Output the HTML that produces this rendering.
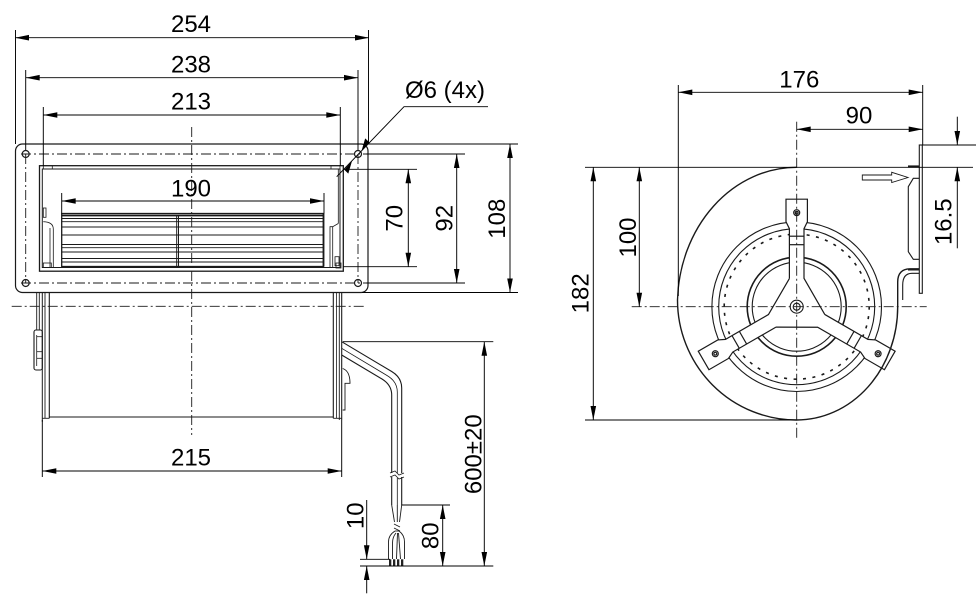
<!DOCTYPE html>
<html>
<head>
<meta charset="utf-8">
<style>
html,body{margin:0;padding:0;background:#fff;}
svg{display:block;}
</style>
</head>
<body>
<svg width="976" height="604" viewBox="0 0 976 604" xmlns="http://www.w3.org/2000/svg">
<defs>
<marker id="a" markerUnits="userSpaceOnUse" markerWidth="16" markerHeight="8" refX="0" refY="0" orient="auto-start-reverse" overflow="visible">
<path d="M0,0 L-14,-2.8 L-14,2.8 Z" fill="#000"/>
</marker>
<g id="armFill">
<path d="M-7.3,-28.4 L-7.3,-78 L-10.7,-85 L-10.7,-107.5 L10.7,-107.5 L10.7,-85 L7.3,-78 L7.3,-28.4 L28.2,8 L0,0 Z" fill="#fff" stroke="none"/>
</g>
<g id="armStroke" fill="none" stroke="#1a1a1a" stroke-width="1.2">
<path d="M-7.3,-28.4 L-7.3,-78 L-10.7,-85 L-10.7,-107.5 L10.7,-107.5 L10.7,-85 L7.3,-78 L7.3,-28.4 L28.2,8"/>
<line x1="-7.3" y1="-70.5" x2="7.3" y2="-70.5"/>
<line x1="-7.3" y1="-62" x2="7.3" y2="-62"/>
<circle cx="0" cy="-94" r="3"/>
<circle cx="0" cy="-94" r="1.4"/>
</g>
</defs>

<!-- ===================== LEFT VIEW ===================== -->
<g fill="none" stroke="#1a1a1a" stroke-width="1.2">
<rect x="15.5" y="144" width="352.5" height="148.5" rx="7" ry="7"/>
<circle cx="25.7" cy="154" r="3.5"/>
<circle cx="358" cy="154" r="3.5"/>
<circle cx="25.7" cy="283" r="3.5"/>
<circle cx="358" cy="283" r="3.5"/>
<rect x="39.5" y="165.7" width="303.8" height="105.5" stroke-width="1.3"/>
<rect x="42.3" y="169" width="297.7" height="98.5" stroke-width="1"/>
<rect x="43.3" y="165.7" width="9" height="3.3" stroke-width="0.8"/>
<rect x="331" y="165.7" width="9" height="3.3" stroke-width="0.8"/>
<rect x="43.3" y="208" width="2.7" height="9.3" stroke-width="0.8"/>
<path d="M43.3,221.7 Q53.3,222 53.3,229 L53.3,268" stroke-width="0.8"/>
<line x1="50" y1="228" x2="50" y2="268" stroke-width="0.8"/>
<rect x="43.3" y="263" width="8" height="4.5" stroke-width="0.8"/>
<line x1="338.3" y1="169" x2="338.3" y2="223.5" stroke-width="0.8"/>
<path d="M330,268 L330,226.7 L332.7,226.7 L338.3,223.5" stroke-width="0.8"/>
<line x1="332.7" y1="226.7" x2="332.7" y2="268" stroke-width="0.8"/>
<rect x="335" y="256.7" width="4" height="9" stroke-width="0.8"/>
<rect x="336" y="263" width="5" height="5" stroke-width="0.8"/>
<rect x="61.7" y="213.5" width="261.8" height="53" stroke-width="1.3"/>
<line x1="61.7" y1="215.5" x2="323.5" y2="215.5" stroke-width="1.8"/>
<g stroke-width="0.9">
<line x1="61.7" y1="218.5" x2="323.5" y2="218.5"/>
<line x1="61.7" y1="221.7" x2="323.5" y2="221.7"/>
<line x1="61.7" y1="227" x2="323.5" y2="227"/>
<line x1="61.7" y1="235" x2="323.5" y2="235"/>
<line x1="61.7" y1="244.5" x2="323.5" y2="244.5"/>
<line x1="61.7" y1="247.7" x2="323.5" y2="247.7"/>
<line x1="61.7" y1="252" x2="323.5" y2="252"/>
<line x1="61.7" y1="258.5" x2="323.5" y2="258.5"/>
<line x1="61.7" y1="262" x2="323.5" y2="262"/>
</g>
<line x1="176.7" y1="216" x2="176.7" y2="266.5" stroke-width="1"/>
<line x1="178.5" y1="216" x2="178.5" y2="266.5" stroke-width="1"/>
<line x1="323.5" y1="213.5" x2="323.5" y2="266.5" stroke-width="1.8"/>

<line x1="36.7" y1="292.5" x2="36.7" y2="330" stroke-width="0.9"/>
<line x1="39.3" y1="292.5" x2="39.3" y2="330" stroke-width="0.9"/>
<line x1="42.3" y1="292.5" x2="42.3" y2="421.7" stroke-width="1"/>
<line x1="45" y1="292.5" x2="45" y2="418.3" stroke-width="0.9"/>
<line x1="49.3" y1="292.5" x2="49.3" y2="418.3" stroke-width="1.1"/>
<line x1="42.3" y1="418.3" x2="49.3" y2="418.3" stroke-width="0.9"/>
<rect x="34" y="330" width="8.3" height="40" rx="2" stroke-width="1.1"/>
<line x1="36.7" y1="335" x2="36.7" y2="366" stroke-width="0.8"/>
<line x1="36.7" y1="336.7" x2="42.3" y2="336.7" stroke-width="0.8"/>
<line x1="36.7" y1="351.7" x2="42.3" y2="351.7" stroke-width="0.8"/>
<line x1="36.7" y1="358.3" x2="42.3" y2="358.3" stroke-width="0.8"/>
<line x1="49.3" y1="417" x2="333.3" y2="417" stroke-width="1.1"/>
<line x1="333.3" y1="292.5" x2="333.3" y2="418.3" stroke-width="1.1"/>
<line x1="336.5" y1="292.5" x2="336.5" y2="418.3" stroke-width="0.8"/>
<line x1="339.3" y1="292.5" x2="339.3" y2="420" stroke-width="0.9"/>
<line x1="341.7" y1="292.5" x2="341.7" y2="420" stroke-width="1.1"/>
<line x1="333.3" y1="418.3" x2="341.7" y2="418.3" stroke-width="0.9"/>
<path d="M342.7,368.5 Q350,371 350,383.3 L345,383.3 L345,410 L342.7,410" stroke-width="0.9"/>

<path d="M341.7,341.7 L391.7,371.5 Q401.7,377.5 401.7,388 L401.7,473" stroke-width="1.1"/>
<path d="M341.7,348.3 L387,375.5 Q397.3,381.5 397.3,392 L397.3,473" stroke-width="0.8"/>
<path d="M341.7,355 L382,379 Q391.7,385 391.7,395 L391.7,473" stroke-width="1.1"/>
<path d="M390,473 L395,471 L399,475 L404,473" stroke-width="0.8"/>
<path d="M390,477 L395,475 L399,479 L404,477" stroke-width="0.8"/>
<line x1="391.7" y1="477" x2="391.7" y2="505" stroke-width="1.1"/>
<line x1="397.3" y1="478" x2="397.3" y2="505" stroke-width="0.8"/>
<line x1="401.7" y1="477" x2="401.7" y2="505" stroke-width="1.1"/>
<g stroke-width="0.9">
<path d="M391.7,505 L394.5,522"/>
<path d="M401.7,505 L399.5,522"/>
<path d="M397.3,505 L397.3,522"/>
<path d="M394,524 L400,527 M394,528 L400,531"/>
<path d="M395,531 Q388.5,535 388.5,542 L388.5,559"/>
<path d="M396,533 Q392.5,537 392.5,543 L392.5,559"/>
<path d="M397.5,533 L396.5,559"/>
<path d="M398.5,533 L400.5,559"/>
<path d="M399,531 Q404.5,535 404.5,542 L404.5,559"/>
<path d="M395,531 L399,531"/>
</g>
</g>
<g fill="#222">
<rect x="389" y="559.3" width="2.3" height="6.7"/>
<rect x="393" y="559.3" width="2.3" height="6.7"/>
<rect x="397" y="559.3" width="2.3" height="6.7"/>
<rect x="401" y="559.3" width="2.3" height="6.7"/>
</g>

<g fill="none" stroke="#1a1a1a" stroke-width="0.9" stroke-dasharray="10 3 2 3">
<line x1="21" y1="154" x2="366" y2="154"/>
<line x1="21" y1="283" x2="366" y2="283"/>
<line x1="25.7" y1="154" x2="25.7" y2="283"/>
<line x1="358" y1="154" x2="358" y2="283"/>
<line x1="11.7" y1="306.3" x2="365" y2="306.3"/>
<line x1="191.7" y1="127" x2="191.7" y2="435"/>
</g>

<g fill="none" stroke="#000" stroke-width="0.95">
<line x1="15" y1="37.7" x2="369" y2="37.7" marker-start="url(#a)" marker-end="url(#a)"/>
<line x1="15.5" y1="30" x2="15.5" y2="144"/>
<line x1="368.5" y1="30" x2="368.5" y2="144"/>
<line x1="25.7" y1="77.7" x2="358" y2="77.7" marker-start="url(#a)" marker-end="url(#a)"/>
<line x1="25.7" y1="70" x2="25.7" y2="150"/>
<line x1="358" y1="70" x2="358" y2="150"/>
<line x1="43.3" y1="115" x2="340.3" y2="115" marker-start="url(#a)" marker-end="url(#a)"/>
<line x1="43.3" y1="107" x2="43.3" y2="166"/>
<line x1="340.3" y1="107" x2="340.3" y2="166"/>
<line x1="61.7" y1="201" x2="324" y2="201" marker-start="url(#a)" marker-end="url(#a)"/>
<line x1="61.7" y1="193" x2="61.7" y2="213.5"/>
<line x1="324" y1="193" x2="324" y2="213.5"/>
<line x1="42.3" y1="471" x2="341.7" y2="471" marker-start="url(#a)" marker-end="url(#a)"/>
<line x1="42.3" y1="420" x2="42.3" y2="477"/>
<line x1="341.7" y1="420" x2="341.7" y2="477"/>
<line x1="408.3" y1="169.3" x2="408.3" y2="266.7" marker-start="url(#a)" marker-end="url(#a)"/>
<line x1="343.3" y1="169.3" x2="417" y2="169.3"/>
<line x1="343.3" y1="266.7" x2="417" y2="266.7"/>
<line x1="456.7" y1="154" x2="456.7" y2="283" marker-start="url(#a)" marker-end="url(#a)"/>
<line x1="366" y1="154" x2="465" y2="154"/>
<line x1="366" y1="283" x2="465" y2="283"/>
<line x1="510" y1="144" x2="510" y2="292.5" marker-start="url(#a)" marker-end="url(#a)"/>
<line x1="368" y1="144" x2="518" y2="144"/>
<line x1="362" y1="292.5" x2="518" y2="292.5"/>
<line x1="484.3" y1="341.7" x2="484.3" y2="566" marker-start="url(#a)" marker-end="url(#a)"/>
<line x1="343" y1="341.7" x2="493.3" y2="341.7"/>
<line x1="360" y1="566" x2="493.3" y2="566"/>
<line x1="442.7" y1="505" x2="442.7" y2="566" marker-start="url(#a)" marker-end="url(#a)"/>
<line x1="401.7" y1="505" x2="450" y2="505"/>
<line x1="366.7" y1="500" x2="366.7" y2="559.3" marker-end="url(#a)"/>
<line x1="366.7" y1="593.3" x2="366.7" y2="566" marker-end="url(#a)"/>
<line x1="360" y1="559.3" x2="390" y2="559.3"/>
<polyline points="488,106.7 404,106.7 336.7,176.7"/>
</g>
<g fill="#000">
<polygon points="361.5,151 365.2,138.4 369.2,142.3"/>
<polygon points="352,161 348.3,173.6 344.3,169.7"/>
</g>

<!-- ===================== RIGHT VIEW ===================== -->
<g fill="none" stroke="#1a1a1a" stroke-width="1.1">
<circle cx="796.7" cy="306.7" r="84.8"/>
<circle cx="796.7" cy="306.7" r="78"/>
<circle cx="796.7" cy="306.7" r="72.5" stroke-width="1.6" stroke-dasharray="3 6.5"/>
<circle cx="796.7" cy="306.7" r="49.5" stroke-width="1.6"/>
<circle cx="796.7" cy="306.7" r="44.5"/>
</g>
<use href="#armFill" transform="translate(796.7 306.7)"/>
<use href="#armFill" transform="translate(796.7 306.7) rotate(120)"/>
<use href="#armFill" transform="translate(796.7 306.7) rotate(240)"/>
<use href="#armStroke" transform="translate(796.7 306.7)"/>
<use href="#armStroke" transform="translate(796.7 306.7) rotate(120)"/>
<use href="#armStroke" transform="translate(796.7 306.7) rotate(240)"/>
<g fill="none" stroke="#1a1a1a" stroke-width="1.1">
<circle cx="796.7" cy="306.7" r="6.5"/>
<circle cx="796.7" cy="306.7" r="3.5"/>
</g>

<g fill="none" stroke="#1a1a1a" stroke-width="1.4">
<path d="M796.7,167.3 A119.4 137 0 0 0 677.5,300 A119.2 120 0 0 0 796.7,420 A101 113.3 0 0 0 897.7,306.7 L897.7,282 Q897.7,269 910,268.8 L919.3,268.8"/>
<path d="M902.7,300 L902.7,285 Q902.7,273.3 912,273.3 L919.3,273.3" stroke-width="1.1"/>
<rect x="919.3" y="145" width="3" height="148.3" stroke-width="1.1"/>
<path d="M919.3,178.3 L913.3,178.3 L908.3,186.7 L908.3,251.7 L913.3,259.3 L919.3,259.3" stroke-width="1.1"/>
<path d="M862.3,175 L891.7,175 L891.7,172.3 L908,177.5 L891.7,182.5 L891.7,180 L862.3,180 Z" stroke-width="0.9"/>
<line x1="908" y1="166.5" x2="919.3" y2="166.5" stroke-width="2.2"/>
<line x1="908" y1="269.5" x2="919.3" y2="269.5" stroke-width="2"/>
</g>

<g fill="none" stroke="#1a1a1a" stroke-width="0.9" stroke-dasharray="10 3 2 3">
<line x1="631.7" y1="306.7" x2="926.7" y2="306.7"/>
<line x1="796.7" y1="121.7" x2="796.7" y2="438"/>
</g>

<g fill="none" stroke="#000" stroke-width="0.95">
<line x1="678.3" y1="92.3" x2="922.7" y2="92.3" marker-start="url(#a)" marker-end="url(#a)"/>
<line x1="678.3" y1="85" x2="678.3" y2="296"/>
<line x1="922.7" y1="85" x2="922.7" y2="145"/>
<line x1="796.7" y1="129.3" x2="922.7" y2="129.3" marker-start="url(#a)" marker-end="url(#a)"/>
<line x1="585" y1="167.3" x2="973" y2="167.3"/>
<line x1="585" y1="420" x2="796.7" y2="420"/>
<line x1="593.3" y1="167.3" x2="593.3" y2="420" marker-start="url(#a)" marker-end="url(#a)"/>
<line x1="639.3" y1="167.3" x2="639.3" y2="306.7" marker-start="url(#a)" marker-end="url(#a)"/>
<line x1="922.3" y1="145" x2="976" y2="145"/>
<line x1="957.3" y1="116.7" x2="957.3" y2="145" marker-end="url(#a)"/>
<line x1="957.3" y1="248.3" x2="957.3" y2="167.3" marker-end="url(#a)"/>
</g>

<g font-family="'Liberation Sans', Arial, sans-serif" font-size="24" fill="#000" text-anchor="middle">
<text x="191" y="32">254</text>
<text x="191" y="72.3">238</text>
<text x="191" y="109.3">213</text>
<text x="191" y="196.7">190</text>
<text x="191" y="465.7">215</text>
<text x="799.3" y="87.3">176</text>
<text x="859" y="123.3">90</text>
<text x="405" y="98" text-anchor="start">Ø6 (4x)</text>
<text transform="translate(402.5 218.3) rotate(-90)">70</text>
<text transform="translate(452.5 218.3) rotate(-90)">92</text>
<text transform="translate(505 218.7) rotate(-90)">108</text>
<text transform="translate(481.5 454.2) rotate(-90)">600±20</text>
<text transform="translate(438.3 535.8) rotate(-90)">80</text>
<text transform="translate(363.3 515.8) rotate(-90)">10</text>
<text transform="translate(588.3 293.3) rotate(-90)">182</text>
<text transform="translate(635.8 237.5) rotate(-90)">100</text>
<text transform="translate(951.7 221.7) rotate(-90)">16.5</text>
</g>
</svg>
</body>
</html>
